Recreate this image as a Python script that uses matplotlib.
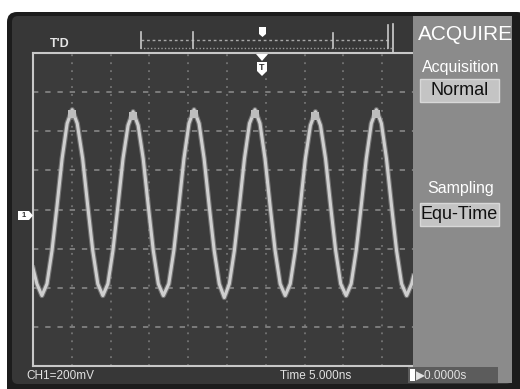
import matplotlib
matplotlib.use("Agg")
import matplotlib.pyplot as plt
from matplotlib.patches import FancyBboxPatch, Rectangle, Polygon

plt.rcParams['font.family'] = ['Liberation Sans', 'DejaVu Sans']

# waveform samples, in divisions
# (time measured from the left edge of the graticule, volts from the centre line)
wave_t = [0.00, 0.10, 0.23, 0.36, 0.49, 0.62, 0.75, 0.88, 1.01, 1.14, 1.28, 1.41,
          1.54, 1.67, 1.80, 1.93, 2.06, 2.19, 2.32, 2.45, 2.58, 2.71, 2.84, 2.97,
          3.10, 3.23, 3.36, 3.50, 3.63, 3.76, 3.89, 4.02, 4.15, 4.28, 4.41, 4.54,
          4.67, 4.80, 4.93, 5.06, 5.19, 5.32, 5.45, 5.58, 5.72, 5.85, 5.98, 6.11,
          6.24, 6.37, 6.50, 6.63, 6.76, 6.89, 7.02, 7.15, 7.28, 7.41, 7.54, 7.67,
          7.80, 7.93, 8.07, 8.20, 8.33, 8.46, 8.59, 8.72, 8.85, 8.98, 9.11, 9.24,
          9.37, 9.50, 9.63, 9.76, 9.81]
wave_v = [-1.5, -1.9, -2.2, -1.9, -1.05, 0.1, 1.3, 2.2, 2.55, 2.2, 1.3, 0.1,
          -1.05, -1.9, -2.2, -1.9, -1.05, 0.1, 1.3, 2.15, 2.5, 2.15, 1.3, 0.1,
          -1.05, -1.9, -2.2, -1.9, -1.05, 0.1, 1.3, 2.2, 2.55, 2.2, 1.3, 0.1,
          -1.05, -1.9, -2.25, -1.9, -1.05, 0.1, 1.3, 2.2, 2.55, 2.2, 1.3, 0.1,
          -1.05, -1.9, -2.2, -1.9, -1.05, 0.1, 1.3, 2.15, 2.5, 2.15, 1.3, 0.1,
          -1.05, -1.9, -2.2, -1.9, -1.05, 0.1, 1.3, 2.2, 2.55, 2.2, 1.3, 0.1,
          -1.05, -1.9, -2.2, -1.9, -1.7]

# peak positions where the trace looks brighter / fuzzier
peak_t = [1.01, 2.58, 4.15, 5.72, 7.28, 8.85]
peak_v = [2.45, 2.4, 2.45, 2.45, 2.4, 2.45]

menu_title = "ACQUIRE"
menu_items = [("Acquisition", "Normal"), ("Sampling", "Equ-Time")]
ch_scale = "CH1=200mV"
time_base = "Time 5.000ns"
trig_pos = "0.0000s"
trig_label = "T'D"

W, H = 520, 389
DIV = 38.8  # pixels per division

fig = plt.figure(figsize=(W / 100, H / 100), dpi=100)
fig.patch.set_facecolor('white')


def px_rect(l, t, r, b):
    return [l / W, 1 - b / H, (r - l) / W, (b - t) / H]


# screen bezel
bg = fig.add_axes([0, 0, 1, 1], zorder=0)
bg.set_xlim(0, W)
bg.set_ylim(H, 0)
bg.axis('off')
bg.add_patch(FancyBboxPatch((7, 12), 520, 390, boxstyle="round,pad=0,rounding_size=10",
                            fc='#1c1c1c', ec='none'))
bg.add_patch(FancyBboxPatch((12, 16), 500, 368, boxstyle="round,pad=0,rounding_size=6",
                            fc='#373737', ec='none'))

# graticule + trace
ax = fig.add_axes(px_rect(33, 53, 413, 366), zorder=1)
ax.set_facecolor('#3b3b3b')
ax.set_xlim(0, (413 - 33) / DIV)
ax.set_ylim(-4, 4)
for x in range(1, 10):
    ax.axvline(x, color='#7e7e7e', lw=1.1, ls=(0, (1.2, 4)))
for y in range(-3, 4):
    ax.axhline(y, color='#8e8e8e', lw=1.1, ls=(0, (3.5, 4.5)))
ax.plot(wave_t, wave_v, color='#8a8a8a', lw=3.8, alpha=0.7, solid_joinstyle='round')
ax.plot(wave_t, wave_v, color='#cfcfcf', lw=2.2, solid_joinstyle='round')
ax.scatter(peak_t, peak_v, s=30, color='#bdbdbd', marker='s', lw=0, zorder=3)
ax.set_xticks([])
ax.set_yticks([])
for side in ['left', 'top', 'bottom']:
    ax.spines[side].set_color('#c8c8c8')
    ax.spines[side].set_linewidth(1.5)
ax.spines['right'].set_visible(False)

# overlay: menu, status bar, markers
top = fig.add_axes([0, 0, 1, 1], zorder=2)
top.patch.set_alpha(0)
top.set_xlim(0, W)
top.set_ylim(H, 0)
top.axis('off')

top.add_patch(Rectangle((413, 16), 99, 367, fc='#8b8b8b', ec='none'))
top.text(466, 34, menu_title, color='white', fontsize=15, ha='center', va='center')
label_y = [67, 188]
box_y = [79, 203]
for (lab, val), ly, by in zip(menu_items, label_y, box_y):
    top.text(461, ly, lab, color='white', fontsize=11.5, ha='center', va='center')
    top.add_patch(Rectangle((420, by), 79, 23, fc='#c4c4c4', ec='#d8d8d8', lw=1))
    top.text(459.5, by + 11.5, val, color='#111111', fontsize=13, ha='center', va='center')

# status bar
top.text(26, 376, ch_scale, color='#e2e2e2', fontsize=8.5, ha='left', va='center')
top.text(280, 376, time_base, color='#e2e2e2', fontsize=8.5, ha='left', va='center')
top.add_patch(Rectangle((408, 367), 90, 16, fc='#5c5c5c', ec='none'))
top.add_patch(Rectangle((410, 369), 5, 12, fc='white', ec='none'))
top.text(416, 375.5, "\u25b6" + trig_pos, color='#e2e2e2', fontsize=8.5, ha='left', va='center')

# trigger memory bar
top.text(50, 44, trig_label, color='#e6e6e6', fontsize=9, fontweight='bold', ha='left', va='center')
top.plot([141, 390], [40, 40], color='#a8a8a8', lw=1, ls=(0, (2, 2)))
top.plot([140, 393], [48, 48], color='#9a9a9a', lw=1, ls=(0, (1, 1.5)))
for tx, t0 in [(141, 32), (193, 32), (333, 33), (388, 25)]:
    top.plot([tx, tx], [t0, 48], color='#c8c8c8', lw=1.2)
top.plot([393, 393], [24, 52], color='#cfcfcf', lw=1.2)
top.add_patch(Polygon([(259, 27), (266, 27), (266, 34), (262.5, 37), (259, 34)],
                      fc='white', ec='none'))

# trigger position marker below the top edge
top.add_patch(Polygon([(256, 54), (268, 54), (262, 61)], fc='white', ec='none'))
top.add_patch(Polygon([(257, 62), (267, 62), (267, 71), (262, 76), (257, 71)],
                      fc='white', ec='none'))
top.text(262, 67.5, "T", color='#333333', fontsize=6.5, fontweight='bold',
         ha='center', va='center')

# channel 1 ground marker
top.add_patch(Polygon([(18, 211), (29, 211), (33, 215.5), (29, 220), (18, 220)],
                      fc='white', ec='none'))
top.text(24, 215.5, "1", color='#333333', fontsize=5.5, fontweight='bold',
         ha='center', va='center')

fig.savefig('out.png', dpi=100, facecolor='white')
